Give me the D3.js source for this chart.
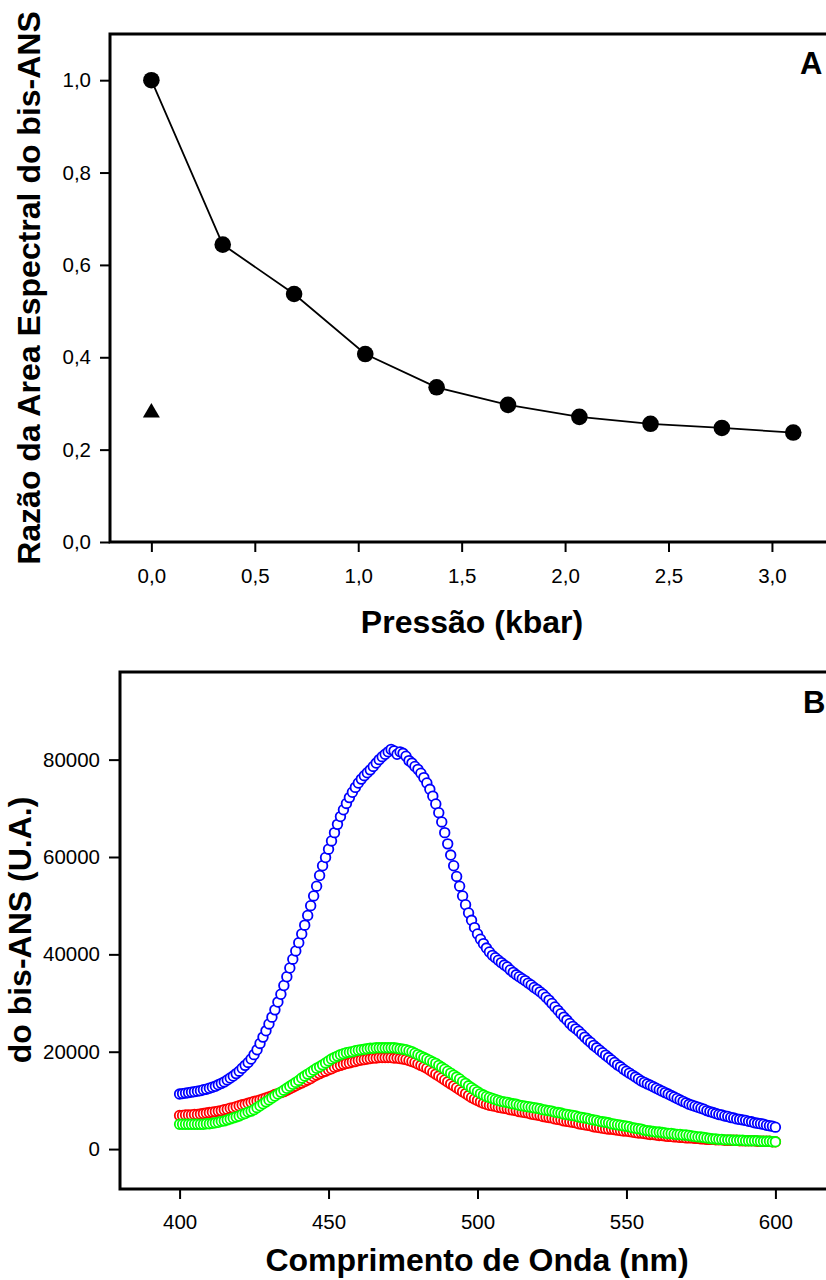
<!DOCTYPE html>
<html>
<head>
<meta charset="utf-8">
<script src="https://cdn.jsdelivr.net/npm/d3@7"></script>
<style>
body { margin: 0; background: #fff; }
svg { position: absolute; left: 0; display: block; }
</style>
</head>
<body>
<script>
// panel A: spectral area ratio vs pressure
let pressure = [0, 0.345, 0.69, 1.034, 1.379, 1.724, 2.069, 2.413, 2.758, 3.103];
let ratio = [1.0, 0.644, 0.537, 0.407, 0.335, 0.297, 0.271, 0.256, 0.247, 0.237];
let controlPressure = [0];
let controlRatio = [0.28];
let pressureTicks = [0, 0.5, 1.0, 1.5, 2.0, 2.5, 3.0];
let ratioTicks = [0, 0.2, 0.4, 0.6, 0.8, 1.0];

// panel B: emission spectra, one value per nm from 400 to 600
let wavelength = d3.range(400, 601);
let blueSpectrum = [11300,11400,11500,11600,11700,11800,11900,12000,12200,12300,
12500,12700,12900,13200,13500,13800,14200,14600,15000,15500,
16000,16600,17200,17800,18500,19400,20400,21700,23000,24300,
25700,27100,28600,30200,31800,33600,35400,37200,39000,40700,
42400,44200,46000,48000,50000,52000,54000,56200,58200,59900,
61600,63300,65000,66700,68300,69700,71000,72200,73300,74300,
75200,76000,76700,77300,77900,78600,79300,80000,80600,81100,
81600,82100,81800,81100,81600,81300,80700,79800,79300,78600,
78000,77200,76300,75200,73900,72500,70900,69100,67200,65000,
62700,60400,58200,56000,54000,52000,50200,48500,47000,45500,
44200,43100,42200,41300,40500,39800,39300,38800,38300,37800,
37400,36800,36300,35800,35400,35000,34600,34100,33700,33200,
32800,32300,31800,31200,30600,29900,29200,28500,27800,27100,
26500,25800,25200,24700,24200,23600,23000,22400,21900,21300,
20800,20300,19800,19300,18800,18300,17800,17300,16900,16400,
16000,15600,15200,14800,14400,14000,13700,13400,13100,12800,
12500,12200,11900,11600,11300,11000,10700,10400,10100,9800,
9500,9200,9000,8800,8600,8400,8200,7900,7700,7500,
7300,7100,7000,6800,6700,6500,6400,6200,6100,6000,
5900,5700,5600,5400,5300,5200,5100,4900,4800,4700,
4500];
let redSpectrum = [6900,6900,7000,7000,7000,7100,7100,7200,7300,7400,
7500,7600,7700,7800,7900,8100,8200,8400,8500,8700,
8900,9100,9200,9400,9600,9800,9900,10100,10300,10500,
10700,10900,11200,11400,11600,11800,12100,12400,12700,13000,
13300,13600,13900,14200,14500,14900,15200,15500,15800,16000,
16300,16500,16800,17000,17200,17400,17600,17700,17900,18000,
18200,18300,18400,18500,18600,18700,18700,18800,18800,18800,
18800,18800,18700,18700,18600,18500,18400,18200,18000,17800,
17500,17200,16900,16600,16200,15800,15400,15000,14600,14200,
13800,13400,13000,12600,12200,11800,11400,11000,10600,10300,
10000,9700,9400,9200,9000,8900,8800,8600,8500,8400,
8300,8100,8000,7900,7700,7600,7500,7400,7200,7100,
7000,6900,6700,6600,6500,6400,6200,6100,6000,5800,
5700,5600,5500,5400,5200,5100,5000,4900,4800,4600,
4500,4400,4300,4200,4100,4100,4000,3900,3800,3700,
3700,3600,3500,3400,3300,3300,3200,3100,3000,3000,
2900,2800,2800,2700,2600,2600,2500,2500,2400,2400,
2300,2300,2300,2200,2200,2100,2100,2000,2000,2000,
1900,1900,1900,1800,1800,1800,1800,1800,1700,1700,
1700,1700,1700,1700,1600,1600,1600,1600,1600,1500,
1500];
let greenSpectrum = [5100,5100,5100,5100,5100,5100,5100,5100,5100,5200,
5200,5300,5400,5500,5700,5800,6000,6200,6400,6600,
6800,7100,7300,7600,7800,8100,8500,8900,9300,9700,
10100,10500,10900,11300,11700,12100,12500,12900,13300,13700,
14100,14600,15000,15400,15800,16200,16600,16900,17300,17700,
18100,18500,18800,19100,19400,19600,19800,19900,20000,20200,
20300,20400,20500,20600,20700,20700,20800,20800,20800,20800,
20800,20800,20800,20700,20600,20500,20400,20200,20000,19700,
19400,19100,18800,18500,18200,17900,17600,17200,16800,16400,
16000,15600,15200,14800,14400,13900,13500,13000,12600,12200,
11800,11400,11100,10800,10600,10400,10200,10000,9800,9700,
9600,9400,9300,9200,9000,8900,8800,8700,8600,8500,
8400,8300,8100,8000,7900,7800,7600,7500,7400,7200,
7100,7000,6900,6800,6600,6500,6400,6300,6100,6000,
5900,5700,5600,5500,5400,5200,5100,5000,4900,4800,
4700,4600,4400,4300,4200,4100,3900,3800,3700,3600,
3500,3500,3400,3300,3200,3200,3100,3000,3000,2900,
2900,2800,2700,2600,2500,2500,2400,2300,2200,2100,
2100,2000,2000,1900,1900,1900,1800,1800,1800,1800,
1700,1700,1700,1700,1700,1600,1600,1600,1600,1500,
1500];
let wavelengthTicks = [400, 450, 500, 550, 600];
let intensityTicks = [0, 20000, 40000, 60000, 80000];

const font = "'Liberation Sans', Arial, Helvetica, sans-serif";
const comma = d => d.toFixed(1).replace(".", ",");

function styleAxis(g) {
    g.select(".domain").remove();
    g.attr("font-family", font).attr("font-size", 20.5);
    g.selectAll(".tick line").attr("stroke", "#000").attr("stroke-width", 2);
    g.selectAll(".tick text").attr("fill", "#000");
}

function spines(g, x0, x1, y0, y1) {
    g.append("path")
      .attr("d", `M${x1},${y0}H${x0}V${y1}H${x1}`)
      .attr("fill", "none")
      .attr("stroke", "#000")
      .attr("stroke-width", 3)
      .attr("stroke-linecap", "square");
}

// ---------- panel A ----------
let svgA = d3.select("body").append("svg")
  .attr("width", 826).attr("height", 660).style("top", "0px");

let xA = d3.scaleLinear().domain([-0.2, 3.3]).range([110, 834]);
let yA = d3.scaleLinear().domain([0, 1.1]).range([542, 34]);

svgA.append("g")
  .attr("transform", "translate(110,0)")
  .call(d3.axisLeft(yA).tickValues(ratioTicks).tickFormat(comma).tickSize(10).tickPadding(9))
  .call(styleAxis);
svgA.append("g")
  .attr("transform", "translate(0,542)")
  .call(d3.axisBottom(xA).tickValues(pressureTicks).tickFormat(comma).tickSize(10).tickPadding(16))
  .call(styleAxis);
spines(svgA, 110, 845, 34, 542);

let pointsA = pressure.map((p, i) => [p, ratio[i]]);
svgA.append("path")
  .datum(pointsA)
  .attr("fill", "none")
  .attr("stroke", "#000")
  .attr("stroke-width", 1.8)
  .attr("d", d3.line().x(d => xA(d[0])).y(d => yA(d[1])));
svgA.selectAll("circle.pt")
  .data(pointsA)
  .join("circle")
  .attr("class", "pt")
  .attr("cx", d => xA(d[0]))
  .attr("cy", d => yA(d[1]))
  .attr("r", 8.3)
  .attr("fill", "#000");
svgA.selectAll("path.tri")
  .data(controlPressure.map((p, i) => [p, controlRatio[i]]))
  .join("path")
  .attr("class", "tri")
  .attr("transform", d => `translate(${xA(d[0])},${yA(d[1])})`)
  .attr("d", d3.symbol(d3.symbolTriangle, 125))
  .attr("fill", "#000");

svgA.append("text")
  .attr("transform", "translate(40,288) rotate(-90)")
  .attr("text-anchor", "middle")
  .attr("font-family", font).attr("font-weight", "bold").attr("font-size", 32)
  .text("Razão da Area Espectral do bis-ANS");
svgA.append("text")
  .attr("x", 472).attr("y", 633)
  .attr("text-anchor", "middle")
  .attr("font-family", font).attr("font-weight", "bold").attr("font-size", 32)
  .text("Pressão (kbar)");
svgA.append("text")
  .attr("x", 800).attr("y", 74)
  .attr("font-family", font).attr("font-weight", "bold").attr("font-size", 31)
  .text("A");

// ---------- panel B ----------
let svgB = d3.select("body").append("svg")
  .attr("width", 826).attr("height", 620).style("top", "660px");
let gB = svgB.append("g").attr("transform", "translate(0,-660)");

let xB = d3.scaleLinear().domain([380, 620]).range([120, 835]);
let yB = d3.scaleLinear().domain([-8200, 98000]).range([1189, 672]);

gB.append("g")
  .attr("transform", "translate(120,0)")
  .call(d3.axisLeft(yB).tickValues(intensityTicks).tickFormat(d3.format("d")).tickSize(11).tickPadding(9))
  .call(styleAxis);
gB.append("g")
  .attr("transform", "translate(0,1189)")
  .call(d3.axisBottom(xB).tickValues(wavelengthTicks).tickFormat(d3.format("d")).tickSize(10).tickPadding(15))
  .call(styleAxis);
spines(gB, 120, 845, 672, 1189);

let series = [
    {color: "#0000ff", values: blueSpectrum},
    {color: "#ff0000", values: redSpectrum},
    {color: "#00ff00", values: greenSpectrum}
];
series.forEach(s => {
    gB.append("g")
      .selectAll("circle")
      .data(wavelength.map((w, i) => [w, s.values[i]]))
      .join("circle")
      .attr("cx", d => xB(d[0]))
      .attr("cy", d => yB(d[1]))
      .attr("r", 4.8)
      .attr("fill", "#fff")
      .attr("stroke", s.color)
      .attr("stroke-width", 1.8);
});

gB.append("text")
  .attr("transform", "translate(31,930) rotate(-90)")
  .attr("text-anchor", "middle")
  .attr("font-family", font).attr("font-weight", "bold").attr("font-size", 32)
  .text("do bis-ANS (U.A.)");
gB.append("text")
  .attr("x", 477).attr("y", 1271)
  .attr("text-anchor", "middle")
  .attr("font-family", font).attr("font-weight", "bold").attr("font-size", 32)
  .text("Comprimento de Onda (nm)");
gB.append("text")
  .attr("x", 803).attr("y", 713)
  .attr("font-family", font).attr("font-weight", "bold").attr("font-size", 31)
  .text("B");
</script>
</body>
</html>
